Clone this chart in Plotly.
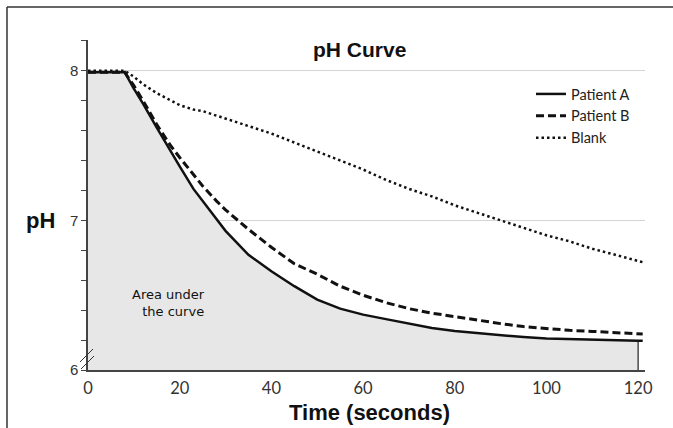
import plotly.graph_objects as go

# ---- data ----
time_s = [0, 4, 8, 10, 12, 15, 18, 20, 23, 25, 28, 30, 35, 40, 45, 50, 55, 60,
          65, 70, 75, 80, 85, 90, 95, 100, 105, 110, 115, 120, 121]
patient_a = [7.99, 7.99, 7.99, 7.88, 7.78, 7.62, 7.46, 7.36, 7.21, 7.13, 7.01, 6.93,
             6.77, 6.66, 6.56, 6.47, 6.41, 6.37, 6.34, 6.31, 6.28, 6.26, 6.245, 6.23,
             6.22, 6.21, 6.205, 6.20, 6.20, 6.195, 6.195]
patient_b = [7.99, 7.99, 7.99, 7.90, 7.80, 7.64, 7.50, 7.42, 7.31, 7.23, 7.13, 7.07,
             6.94, 6.82, 6.71, 6.64, 6.56, 6.50, 6.45, 6.41, 6.38, 6.355, 6.33, 6.31,
             6.29, 6.275, 6.265, 6.258, 6.25, 6.24, 6.24]
blank = [8.0, 8.0, 8.0, 7.96, 7.91, 7.85, 7.80, 7.77, 7.74, 7.73, 7.70, 7.68,
         7.63, 7.58, 7.52, 7.46, 7.40, 7.34, 7.27, 7.21, 7.16, 7.10, 7.05, 7.00,
         6.95, 6.90, 6.86, 6.81, 6.77, 6.73, 6.72]
area_end = 120
x_ticks = [0, 20, 40, 60, 80, 100, 120]
y_labels = [6, 7, 8]

W, H = 673, 428
ML, MR, MT, MB = 88, 28, 40, 58
PW, PH = W - ML - MR, H - MT - MB


def px(xp):
    return (xp - ML) / PW


def py(yp):
    return (H - MB - yp) / PH


fill_t = [t for t in time_s if t <= area_end]
fill_a = [a for t, a in zip(time_s, patient_a) if t <= area_end]

fig = go.Figure()
fig.add_trace(go.Scatter(x=fill_t, y=fill_a, mode="lines", line=dict(width=0),
                         fill="tozeroy", fillcolor="#e7e7e7", showlegend=False,
                         hoverinfo="skip"))
fig.add_trace(go.Scatter(x=[area_end, area_end], y=[0, fill_a[-1]], mode="lines",
                         line=dict(color="#222", width=1.2), showlegend=False,
                         hoverinfo="skip"))
fig.add_trace(go.Scatter(x=time_s, y=patient_a, mode="lines", name="Patient A",
                         line=dict(color="#111", width=2.5)))
fig.add_trace(go.Scatter(x=time_s, y=patient_b, mode="lines", name="Patient B",
                         line=dict(color="#111", width=3, dash="8px,4px")))
fig.add_trace(go.Scatter(x=time_s, y=blank, mode="lines", name="Blank",
                         line=dict(color="#111", width=2.5, dash="2.5px,3px")))


def label(text, x, y, size, family="Liberation Sans", xanchor="center", align="center"):
    return dict(text=text, x=px(x), y=py(y), xref="paper", yref="paper",
                xanchor=xanchor, yanchor="middle", align=align, showarrow=False,
                font=dict(family=family, size=size, color="#111"))


fig.update_layout(
    width=W, height=H,
    margin=dict(l=ML, r=MR, t=MT, b=MB),
    paper_bgcolor="white", plot_bgcolor="white",
    showlegend=True,
    legend=dict(x=px(531), y=py(78), xanchor="left", yanchor="top",
                font=dict(family="Lato", size=14.5, color="#222"),
                bgcolor="rgba(0,0,0,0)", tracegroupgap=0),
    xaxis=dict(range=[0, 121.5], tickvals=x_ticks, showgrid=False, zeroline=False,
               showline=True, linecolor="#444", linewidth=1.5,
               ticks="outside", ticklen=2, tickcolor="rgba(0,0,0,0)",
               tickfont=dict(family="Lato", size=16.5, color="#333")),
    yaxis=dict(range=[6, 8.205], tick0=6, dtick=1, showgrid=True, gridcolor="#d4d4d4",
               gridwidth=1, zeroline=False, showline=True, linecolor="#444",
               linewidth=1.5, ticks="outside", ticklen=5, tickcolor="#444",
               tickfont=dict(family="Liberation Sans", size=15, color="#333"),
               minor=dict(dtick=0.2, ticks="outside", ticklen=5, tickcolor="#444",
                          showgrid=False)),
    annotations=[
        label("<b>pH Curve</b>", 359, 50, 21),
        label("<b>Time (seconds)</b>", 369, 412, 22),
        label("<b>pH</b>", 40, 220, 22),
        label("Area under<br>the curve", 207, 303, 13, family="DejaVu Sans",
              xanchor="right", align="right"),
    ],
    shapes=[
        dict(type="line", xref="paper", yref="paper", x0=px(7), x1=px(7), y0=py(7), y1=py(H),
             line=dict(color="#333", width=1.5)),
        dict(type="line", xref="paper", yref="paper", x0=px(7), x1=px(W), y0=py(7), y1=py(7),
             line=dict(color="#333", width=1.5)),
        dict(type="line", xref="paper", yref="paper", x0=px(80), x1=px(93), y0=py(362), y1=py(349),
             line=dict(color="#333", width=1)),
        dict(type="line", xref="paper", yref="paper", x0=px(81), x1=px(94), y0=py(369), y1=py(356),
             line=dict(color="#333", width=1)),
    ],
)

fig.write_html("out.html")
